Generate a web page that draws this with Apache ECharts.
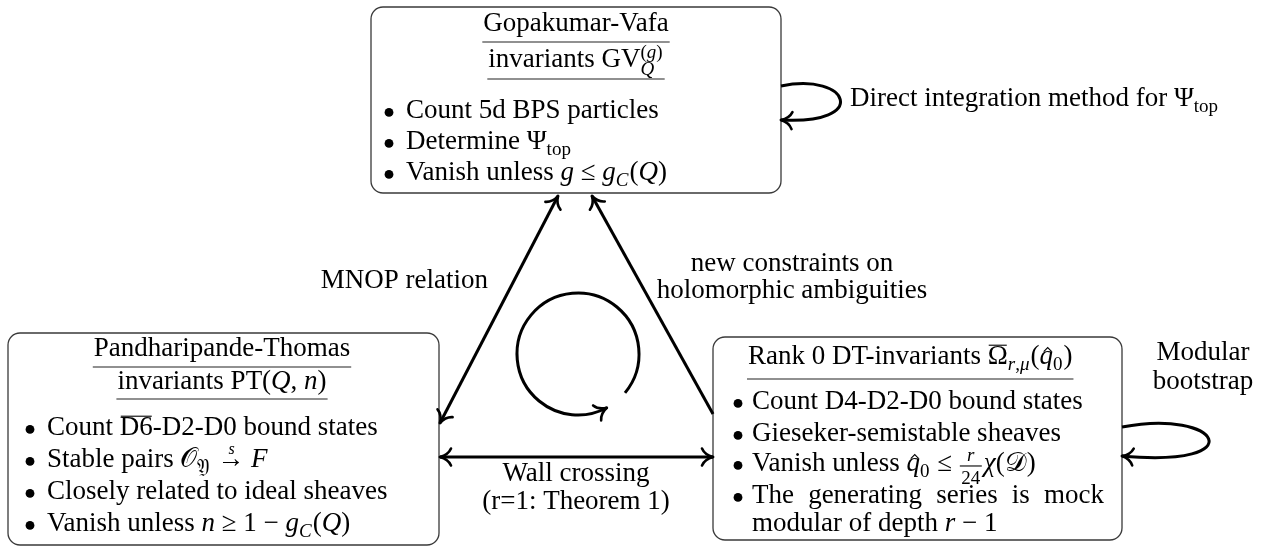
<!DOCTYPE html>
<html><head><meta charset="utf-8">
<script src="https://cdn.jsdelivr.net/npm/echarts@6/dist/echarts.min.js"></script>
<style>html,body{margin:0;padding:0;background:#fff}#c{width:1265px;height:546px}</style>
</head><body><div id="c"></div>
<script>
// ---------------- text content ----------------
const gvTitle = [
  [{t:'Gopakumar-Vafa'}],
  [{t:'invariants GV'}, {sup:[{t:'('},{t:'g',it:1},{t:')'}], sub:[{t:'Q',it:1}]}]
];
const gvBullets = [
  [{t:'Count 5d BPS particles'}],
  [{t:'Determine Ψ'}, {sub:[{t:'top'}]}],
  [{t:'Vanish unless '}, {t:'g',it:1}, {t:' ≤ '}, {t:'g',it:1}, {sub:[{t:'C',it:1}]}, {t:'('}, {t:'Q',it:1}, {t:')'}]
];
const ptTitle = [
  [{t:'Pandharipande-Thomas'}],
  [{t:'invariants PT('}, {t:'Q',it:1}, {t:', '}, {t:'n',it:1}, {t:')'}]
];
const ptBullets = [
  [{t:'Count '}, {t:'D6',ol:1}, {t:'-D2-D0 bound states'}],
  [{t:'Stable pairs '}, {t:'𝒪'}, {sub:[{t:'𝔜'}]}, {t:' '}, {t:'→',over:'s'}, {t:' '}, {t:'F',it:1}],
  [{t:'Closely related to ideal sheaves'}],
  [{t:'Vanish unless '}, {t:'n',it:1}, {t:' ≥ 1 − '}, {t:'g',it:1}, {sub:[{t:'C',it:1}]}, {t:'('}, {t:'Q',it:1}, {t:')'}]
];
const dtTitle = [
  [{t:'Rank 0 DT-invariants '}, {t:'Ω',ol:1}, {sub:[{t:'r',it:1},{t:','},{t:'μ',it:1}]}, {t:'('}, {t:'q',it:1,hat:1}, {sub:[{t:'0'}]}, {t:')'}]
];
const dtBullets = [
  [{t:'Count D4-D2-D0 bound states'}],
  [{t:'Gieseker-semistable sheaves'}],
  [{t:'Vanish unless '}, {t:'q',it:1,hat:1}, {sub:[{t:'0'}]}, {t:' ≤ '}, {frac:['r','24']}, {t:'χ',it:1}, {t:'('}, {t:'𝒟'}, {t:')'}],
  [{t:'The generating series is mock'}],
  [{t:'modular of depth '}, {t:'r',it:1}, {t:' − 1'}]
];
const mnopLabel = ['MNOP relation'];
const constraintLabel = ['new constraints on', 'holomorphic ambiguities'];
const wallLabel = ['Wall crossing', '(r=1: Theorem 1)'];
const directLabel = [{t:'Direct integration method for Ψ'}, {sub:[{t:'top'}]}];
const bootstrapLabel = ['Modular', 'bootstrap'];

// ---------------- layout ----------------
const LAYOUT = {
  gv: {box:[371,7,410,186], cx:576, titleBase:[33,69], ul:[42,79], bulletX:389, textX:406, rows:[120,151,182]},
  pt: {box:[8,333,431,212], cx:222, titleBase:[358,391], ul:[367,399], bulletX:30, textX:47, rows:[437,469,501,533]},
  dt: {box:[713,337,409,203], titleX:748, titleBase:[366], ul:[379], bulletX:738, textX:752, rows:[411,443,473,505,533],
       lineKind:['b','b','b','bj','c'], justifyTo:1104}
};
const FONT = '"Liberation Serif", "DejaVu Serif", serif';
const S = 27, SS = 19;
const INK = '#000', BOXINK = '#3a3a3a';

const cv = document.createElement('canvas').getContext('2d');
function meas(t, size, it) {
  cv.font = (it ? 'italic ' : 'normal ') + size + 'px ' + FONT;
  const m = cv.measureText(t);
  let mid = 0.34 * size;
  if (m.fontBoundingBoxAscent !== undefined) mid = (m.fontBoundingBoxAscent - m.fontBoundingBoxDescent) / 2;
  return {w: m.width, mid};
}
const els = [];
function txt(t, x, yb, size, it) {
  const m = meas(t, size, it);
  els.push({type:'text', x, y: yb - m.mid, silent:true, z:10,
    style:{text:t, fill:INK, fontSize:size, fontFamily:FONT, fontStyle: it ? 'italic' : 'normal', align:'left', verticalAlign:'middle'}});
  return m.w;
}
function seg(x1, y1, x2, y2, w, color) {
  els.push({type:'line', silent:true, shape:{x1,y1,x2,y2}, style:{stroke:color||INK, lineWidth:w, lineCap:'butt'}});
}
function layoutTokens(tokens) {
  const out = []; let x = 0;
  for (const tk of tokens) {
    if (tk.frac) {
      const n = meas(tk.frac[0], SS, true), d = meas(tk.frac[1], SS, false);
      const fw = Math.max(n.w, d.w) + 3;
      out.push({k:'t', t:tk.frac[0], x:x+(fw-n.w)/2+1, yb:-0.40*S, size:SS, it:true});
      out.push({k:'t', t:tk.frac[1], x:x+(fw-d.w)/2+1, yb:0.46*S, size:SS, it:false});
      out.push({k:'l', x1:x+1, x2:x+fw+1, y:-0.26*S, w:1.1});
      x += fw + 3; continue;
    }
    if (tk.sub || tk.sup) {
      let w1 = 0, w2 = 0;
      if (tk.sup) { let xx = x; for (const q of tk.sup) { out.push({k:'t', t:q.t, x:xx, yb:-0.36*S, size:SS, it:q.it}); xx += meas(q.t, SS, q.it).w; } w1 = xx - x; }
      if (tk.sub) { let xx = x; const yb = tk.sup ? 0.26*S : 0.22*S; for (const q of tk.sub) { out.push({k:'t', t:q.t, x:xx, yb, size:SS, it:q.it}); xx += meas(q.t, SS, q.it).w; } w2 = xx - x; }
      x += Math.max(w1, w2) + 1; continue;
    }
    const m = meas(tk.t, S, tk.it);
    out.push({k:'t', t:tk.t, x, yb:0, size:S, it:tk.it});
    if (tk.ol) out.push({k:'l', x1:x+1, x2:x+m.w-1, y:-0.77*S, w:1.1});
    if (tk.hat) { const c = x + m.w/2 + 1.5, yt = -0.68*S; out.push({k:'h', c, yt}); }
    if (tk.over) { const o = meas(tk.over, 16, true); out.push({k:'t', t:tk.over, x:x+(m.w-o.w)/2+1, yb:-0.52*S, size:16, it:true}); }
    x += m.w;
  }
  return {out, w:x};
}
function placeTokens(tokens, x0, yb0, align) {
  const L = layoutTokens(tokens);
  const ox = align === 'center' ? x0 - L.w/2 : x0;
  for (const o of L.out) {
    if (o.k === 't') txt(o.t, ox + o.x, yb0 + o.yb, o.size, o.it);
    else if (o.k === 'l') seg(ox + o.x1, yb0 + o.y, ox + o.x2, yb0 + o.y, o.w);
    else if (o.k === 'h') els.push({type:'polyline', silent:true, shape:{points:[[ox+o.c-4, yb0+o.yt+4],[ox+o.c, yb0+o.yt],[ox+o.c+4, yb0+o.yt+4]]}, style:{stroke:INK, lineWidth:1.1, fill:null}});
  }
  return {x:ox, w:L.w};
}
function placeJustified(text, x0, x1, yb) {
  const words = text.split(' ');
  const ws = words.map(w => meas(w, S, false).w);
  const gap = (x1 - x0 - ws.reduce((a,b)=>a+b,0)) / (words.length - 1);
  let x = x0;
  words.forEach((w, i) => { txt(w, x, yb, S, false); x += ws[i] + gap; });
}
function bullet(cx, yb) {
  els.push({type:'circle', silent:true, shape:{cx, cy: yb - 0.28*S, r:4.4}, style:{fill:INK}});
}
function box(b) {
  els.push({type:'rect', silent:true, shape:{x:b[0], y:b[1], width:b[2], height:b[3], r:12}, style:{fill:'rgba(0,0,0,0)', stroke:BOXINK, lineWidth:1.3}});
}
function node(L, title, bullets) {
  box(L.box);
  title.forEach((line, i) => {
    const p = L.cx !== undefined ? placeTokens(line, L.cx, L.titleBase[i], 'center') : placeTokens(line, L.titleX, L.titleBase[i], 'left');
    seg(p.x - 1, L.ul[i], p.x + p.w + 1, L.ul[i], 1.2, '#222');
  });
  bullets.forEach((line, i) => {
    const kind = L.lineKind ? L.lineKind[i] : 'b';
    const yb = L.rows[i];
    if (kind !== 'c') bullet(L.bulletX, yb);
    if (kind === 'bj') placeJustified(line[0].t, L.textX, L.justifyTo, yb);
    else placeTokens(line, L.textX, yb, 'left');
  });
}
// arrows
const AW = 3;
function barbs(tx, ty, dx, dy) {
  const len = Math.hypot(dx, dy); dx /= len; dy /= len;
  const nx = -dy, ny = dx, Lh = 11, H = 8.5;
  [1, -1].forEach(s => {
    els.push({type:'bezierCurve', silent:true, shape:{
      x1: tx - Lh*dx + s*H*nx, y1: ty - Lh*dy + s*H*ny,
      cpx1: tx - 0.75*Lh*dx + s*0.25*H*nx, cpy1: ty - 0.75*Lh*dy + s*0.25*H*ny,
      x2: tx, y2: ty}, style:{stroke:INK, lineWidth:2.6, fill:null, lineCap:'round'}});
  });
}
function arrow(a, b, headA, headB) {
  seg(a[0], a[1], b[0], b[1], AW);
  if (headB) barbs(b[0], b[1], b[0]-a[0], b[1]-a[1]);
  if (headA) barbs(a[0], a[1], a[0]-b[0], a[1]-b[1]);
}
function loop(p0, c1, c2, p3) {
  els.push({type:'bezierCurve', silent:true, shape:{x1:p0[0], y1:p0[1], cpx1:c1[0], cpy1:c1[1], cpx2:c2[0], cpy2:c2[1], x2:p3[0], y2:p3[1]},
    style:{stroke:INK, lineWidth:AW, fill:null}});
  barbs(p3[0], p3[1], p3[0]-c2[0], p3[1]-c2[1]);
}

node(LAYOUT.gv, gvTitle, gvBullets);
node(LAYOUT.pt, ptTitle, ptBullets);
node(LAYOUT.dt, dtTitle, dtBullets);

// edges between nodes
arrow([558,196], [440,423], true, true);
arrow([713,414], [592,196], false, true);
arrow([440,457], [713,457], true, true);
loop([781,86], [850,72], [870,125], [781,120]);
loop([1122,427], [1220,408], [1255,468], [1122,456]);
// circular arrow
const CIRC = {cx:578, cy:354, r:61, a0:39.6, a1:61.8};
const r0 = CIRC.a0*Math.PI/180, r1 = CIRC.a1*Math.PI/180;
els.push({type:'arc', silent:true, shape:{cx:CIRC.cx, cy:CIRC.cy, r:CIRC.r, startAngle:r0, endAngle:r1, clockwise:false}, style:{stroke:INK, lineWidth:AW, fill:null}});
barbs(CIRC.cx + CIRC.r*Math.cos(r1), CIRC.cy + CIRC.r*Math.sin(r1), Math.sin(r1), -Math.cos(r1));

// edge labels
function centered(t, cx, yb) { const w = meas(t, S, false).w; txt(t, cx - w/2, yb, S, false); }
(function(){ const w = meas(mnopLabel[0], S, false).w; txt(mnopLabel[0], 488 - w, 290, S, false); })();
centered(constraintLabel[0], 792, 273);
centered(constraintLabel[1], 792, 300);
centered(wallLabel[0], 576, 483);
centered(wallLabel[1], 576, 511);
placeTokens(directLabel, 850, 108, 'left');
centered(bootstrapLabel[0], 1203, 362);
centered(bootstrapLabel[1], 1203, 391);

const chart = echarts.init(document.getElementById('c'), null, {renderer:'canvas', width:1265, height:546});
chart.setOption({backgroundColor:'#fff', animation:false, graphic:{elements: els}});
</script></body></html>
